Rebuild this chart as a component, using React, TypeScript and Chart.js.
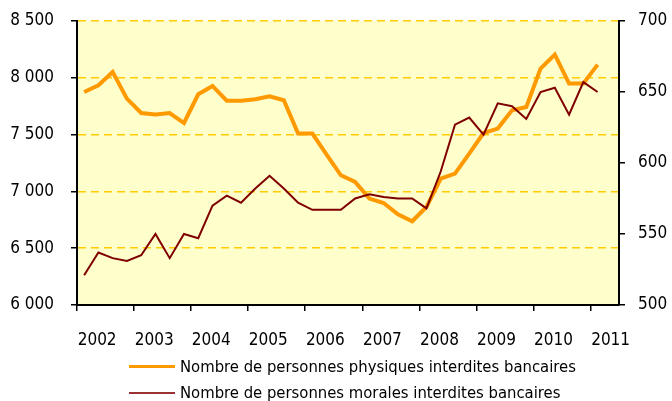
import { useEffect, useRef } from 'react';
import { Chart, registerables } from 'chart.js';

Chart.register(...registerables);

const years = ['2002', '2003', '2004', '2005', '2006', '2007', '2008', '2009', '2010', '2011'];
const quarters = ['T1', 'T2', 'T3', 'T4'];
const categories = years.flatMap((y) => quarters.map((q) => `${y} ${q}`)).slice(0, 38);

const physiques = [
  7875, 7934, 8051, 7817, 7690, 7676, 7690, 7602, 7855, 7928,
  7799, 7799, 7811, 7837, 7802, 7509, 7509, 7324, 7142, 7083,
  6937, 6898, 6798, 6737, 6863, 7112, 7157, 7333, 7514, 7553,
  7714, 7743, 8081, 8204, 7949, 7949, 8116, null,
];

const morales = [
  521, 537, 533, 531, 535, 550, 533, 550, 547, 570,
  577, 572, 582, 591, 582, 572, 567, 567, 567, 575,
  578, 576, 575, 575, 568, 594, 627, 632, 620, 642,
  640, 631, 650, 653, 634, 657, 650, null,
];

const leftTicks = [6000, 6500, 7000, 7500, 8000, 8500];
const rightTicks = [500, 550, 600, 650, 700];

const seriesNames = [
  'Nombre de personnes physiques interdites bancaires',
  'Nombre de personnes morales interdites bancaires',
];
const seriesColors = ['#FF9900', '#800000'];
const legendColors = ['#FF9900', '#993333'];

const FONT = '"DejaVu Sans Condensed", "DejaVu Sans", sans-serif';

const fmt = (v: number) => {
  if (v < 1000) return String(v);
  const th = Math.floor(v / 1000);
  const rest = String(v % 1000).padStart(3, '0');
  return `${th} ${rest}`;
};

const bgPlugin = {
  id: 'plotBg',
  beforeDraw(chart: any) {
    const { ctx, chartArea } = chart;
    ctx.save();
    ctx.fillStyle = '#FFFFCC';
    ctx.fillRect(chartArea.left, chartArea.top, chartArea.right - chartArea.left, chartArea.bottom - chartArea.top);
    ctx.restore();
  },
};

export default function App() {
  const ref = useRef<HTMLCanvasElement | null>(null);

  useEffect(() => {
    if (!ref.current) return;
    const chart = new Chart(ref.current, {
      type: 'line',
      data: {
        labels: categories,
        datasets: [
          {
            label: seriesNames[0],
            data: physiques,
            borderColor: seriesColors[0],
            backgroundColor: seriesColors[0],
            borderWidth: 4,
            pointRadius: 0,
            tension: 0,
            yAxisID: 'y',
            order: 2,
          },
          {
            label: seriesNames[1],
            data: morales,
            borderColor: seriesColors[1],
            backgroundColor: seriesColors[1],
            borderWidth: 2,
            pointRadius: 0,
            tension: 0,
            yAxisID: 'y1',
            order: 1,
          },
        ],
      },
      options: {
        animation: false,
        responsive: false,
        maintainAspectRatio: false,
        layout: { padding: { top: 21, left: 0, right: 0, bottom: 0 } },
        plugins: {
          legend: { display: false },
          tooltip: { enabled: false },
        },
        scales: {
          x: {
            type: 'category',
            offset: true,
            afterFit: (s: any) => {
              s.height = 96;
              s.paddingLeft = 0;
              s.paddingRight = 0;
            },
            grid: {
              offset: true,
              drawOnChartArea: false,
              drawTicks: true,
              tickLength: 6,
              color: (c: any) => (c.index % 4 === 0 ? '#000000' : 'rgba(0,0,0,0)'),
              lineWidth: 1.5,
            },
            border: { display: true, color: '#000000', width: 2 },
            ticks: {
              autoSkip: false,
              maxRotation: 0,
              minRotation: 0,
              padding: 19,
              labelOffset: 13,
              color: '#000000',
              font: { family: FONT, size: 17 },
              callback: (_v: any, i: number) => (i % 4 === 0 ? years[i / 4] : ''),
            },
          },
          y: {
            position: 'left',
            min: 6000,
            max: 8500,
            afterFit: (s: any) => {
              s.width = 77;
              s.paddingTop = 0;
              s.paddingBottom = 0;
            },
            afterBuildTicks: (s: any) => {
              s.ticks = leftTicks.map((v) => ({ value: v }));
            },
            grid: {
              drawTicks: true,
              tickLength: 6,
              color: (c: any) => (c.tick && c.tick.value === 6000 ? 'rgba(0,0,0,0)' : '#FFCC00'),
              lineWidth: 1.5,
              tickColor: '#000000',
              tickBorderDash: [],
              borderDash: [8, 5],
            },
            border: { display: true, color: '#000000', width: 2, dash: [8, 5] },
            ticks: {
              padding: 17,
              color: '#000000',
              font: { family: FONT, size: 17 },
              callback: (v: any) => fmt(Number(v)),
            },
          },
          y1: {
            position: 'right',
            min: 500,
            max: 700,
            afterFit: (s: any) => {
              s.width = 53;
              s.paddingTop = 0;
              s.paddingBottom = 0;
            },
            afterBuildTicks: (s: any) => {
              s.ticks = rightTicks.map((v) => ({ value: v }));
            },
            grid: {
              drawOnChartArea: false,
              drawTicks: true,
              tickLength: 6,
              color: '#000000',
              tickColor: '#000000',
              lineWidth: 1.5,
            },
            border: { display: true, color: '#000000', width: 2 },
            ticks: {
              padding: 13,
              color: '#000000',
              font: { family: FONT, size: 17 },
              callback: (v: any) => fmt(Number(v)),
            },
          },
        },
      },
      plugins: [bgPlugin],
    });
    return () => chart.destroy();
  }, []);

  return (
    <div style={{ position: 'absolute', left: 0, top: 0, width: 672, height: 401, background: '#ffffff', overflow: 'hidden' }}>
      <canvas ref={ref} width={672} height={401} style={{ display: 'block', width: 672, height: 401 }} />
      <div style={{ position: 'absolute', left: 129, top: 353, fontFamily: FONT, fontSize: 16.5, color: '#000' }}>
        {seriesNames.map((name, i) => (
          <div key={name} style={{ display: 'flex', alignItems: 'center', height: 26.6, whiteSpace: 'nowrap' }}>
            <span style={{ display: 'inline-block', width: 46, height: i === 0 ? 3 : 2, background: legendColors[i], marginRight: 5 }} />
            <span>{name}</span>
          </div>
        ))}
      </div>
    </div>
  );
}
